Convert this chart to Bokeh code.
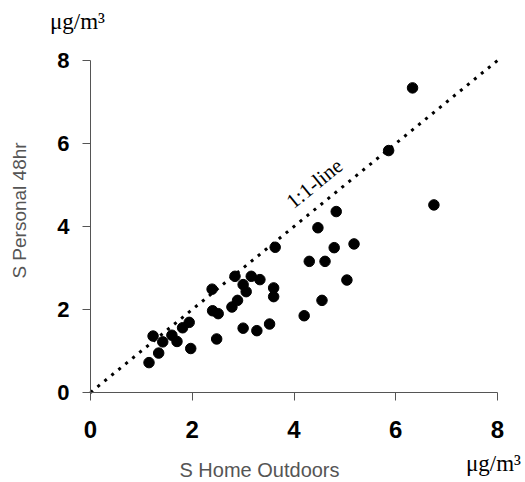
import math
from bokeh.plotting import figure
from bokeh.models import Range1d, Label, FixedTicker, ColumnDataSource
from bokeh.embed import file_html
from bokeh.resources import INLINE

# Data
home_outdoors = [1.15, 1.34, 1.23, 1.42, 1.60, 1.70, 1.81, 1.94, 1.97,
                 2.39, 2.40, 2.51, 2.48, 2.78, 2.89, 2.84, 3.00, 3.06, 3.00,
                 3.16, 3.33, 3.60, 3.60, 3.27, 3.52, 3.63,
                 4.47, 4.79, 5.18, 4.30, 4.61, 5.04, 4.55, 4.20, 4.83,
                 6.33, 5.86, 6.75]
personal_48hr = [0.72, 0.95, 1.36, 1.22, 1.38, 1.23, 1.56, 1.69, 1.06,
                 2.49, 1.97, 1.90, 1.29, 2.06, 2.22, 2.80, 2.60, 2.43, 1.55,
                 2.80, 2.72, 2.52, 2.31, 1.49, 1.65, 3.50,
                 3.97, 3.49, 3.58, 3.16, 3.16, 2.71, 2.22, 1.85, 4.36,
                 7.34, 5.83, 4.52]
line_x = [0, 8]
line_y = [0, 8]
ticks = [0, 2, 4, 6, 8]

W, H = 525, 482
X0, XPU = 90.0, 50.875     # pixel of x=0, pixels per unit
Y0, YPU = 392.0, 41.5      # pixel of y=0, pixels per unit


def dx(px):
    return (px - X0) / XPU


def dy(py):
    return (Y0 - py) / YPU


p = figure(width=W, height=H, output_backend="svg", toolbar_location=None,
           x_range=Range1d(dx(0), dx(W)), y_range=Range1d(dy(H), dy(0)),
           min_border=0)
p.background_fill_color = "white"
p.border_fill_color = "white"
p.outline_line_color = None
p.grid.visible = False

for ax in (p.xaxis[0], p.yaxis[0]):
    ax.ticker = FixedTicker(ticks=ticks)
    ax.bounds = (0, 8)
    ax.fixed_location = 0
    ax.minor_tick_line_color = None
    ax.axis_line_color = "#555555"
    ax.major_tick_line_color = "#555555"
    ax.major_tick_in = 0
    ax.major_tick_out = 8
    ax.major_label_text_font = "Liberation Sans"
    ax.major_label_text_font_style = "bold"
    ax.major_label_text_color = "black"

p.xaxis.major_label_text_font_size = "24px"
p.xaxis.major_label_standoff = 20
p.yaxis.major_label_text_font_size = "22px"
p.yaxis.major_label_standoff = 13

# 1:1 line
p.line(line_x, line_y, line_color="black", line_width=3, line_dash="3 6")

src = ColumnDataSource(dict(x=home_outdoors, y=personal_48hr))
p.scatter("x", "y", source=src, size=10.5, color="black")

ang = math.atan(YPU / XPU)
p.add_layout(Label(x=dx(314), y=dy(183), text="1:1-line", angle=ang,
                   text_align="center", text_baseline="middle",
                   text_font="Liberation Serif", text_font_size="21px",
                   text_color="black"))

p.add_layout(Label(x=dx(259), y=dy(469), text="S Home Outdoors",
                   text_align="center", text_baseline="middle",
                   text_font="Liberation Sans", text_font_size="20px",
                   text_color="#555555"))
p.add_layout(Label(x=dx(19), y=dy(210), text="S Personal 48hr", angle=math.pi / 2,
                   text_align="center", text_baseline="middle",
                   text_font="Liberation Sans", text_font_size="19px",
                   text_color="#555555"))
p.add_layout(Label(x=dx(77), y=dy(21), text="μg/m³",
                   text_align="center", text_baseline="middle",
                   text_font="Liberation Serif", text_font_size="23px",
                   text_color="black"))
p.add_layout(Label(x=dx(493), y=dy(463), text="μg/m³",
                   text_align="center", text_baseline="middle",
                   text_font="Liberation Serif", text_font_size="23px",
                   text_color="black"))

open("out.html", "w").write(file_html(p, INLINE))
